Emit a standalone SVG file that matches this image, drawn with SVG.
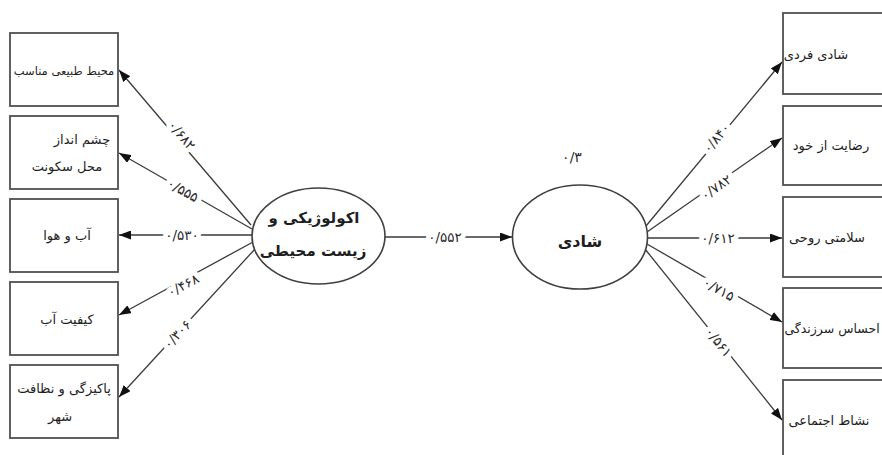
<svg xmlns="http://www.w3.org/2000/svg" width="882" height="455" viewBox="0 0 882 455">
<style>
.box{fill:#fff;stroke:#505050;stroke-width:1.8}
.ell{fill:#fff;stroke:#404040;stroke-width:1.6}
.lbl{font-family:"DejaVu Sans",sans-serif;font-size:13px;fill:#1e1e1e;text-anchor:middle}
.big{font-family:"DejaVu Sans",sans-serif;font-size:15px;font-weight:bold;fill:#1e1e1e;text-anchor:middle}
.con line{stroke:#3a3a3a;stroke-width:1.3;marker-end:url(#ah)}
.num{font-family:"DejaVu Sans",sans-serif;font-size:13.5px;fill:#2a2a2a;text-anchor:middle;stroke:#fff;stroke-width:10;stroke-linejoin:round;paint-order:stroke}
</style>
<defs>
<marker id="ah" viewBox="0 0 12 9" markerWidth="12" markerHeight="9" refX="12" refY="4.5" orient="auto" markerUnits="userSpaceOnUse">
<path d="M0,0 L12,4.5 L0,9 z" fill="#111"/>
</marker>
</defs>
<rect width="882" height="455" fill="#fff"/>

<g id="connectors" class="con">
<line x1="251" y1="225" x2="119" y2="70"/>
<line x1="252" y1="229" x2="119" y2="153"/>
<line x1="252" y1="235" x2="119" y2="235"/>
<line x1="253" y1="242" x2="119" y2="315"/>
<line x1="255" y1="249" x2="119" y2="397"/>
<line x1="385" y1="237" x2="512" y2="237"/>
<line x1="646" y1="226" x2="782" y2="62"/>
<line x1="647" y1="232" x2="782" y2="138"/>
<line x1="648" y1="238" x2="782" y2="238"/>
<line x1="647" y1="244" x2="782" y2="322"/>
<line x1="645" y1="249" x2="782" y2="420"/>
</g>

<g id="labels">
<text class="num" transform="translate(182,135) rotate(49.6)" y="5">۰/۶۸۲</text>
<text class="num" transform="translate(183,190) rotate(29.6)" y="5">۰/۵۵۵</text>
<text class="num" transform="translate(182,235)" y="5">۰/۵۳۰</text>
<text class="num" transform="translate(183,285) rotate(-28)" y="5">۰/۴۶۸</text>
<text class="num" transform="translate(177,334) rotate(-47)" y="5">۰/۳۰۶</text>
<text class="num" transform="translate(445,237)" y="5">۰/۵۵۲</text>
<text class="num" transform="translate(716,138) rotate(-50.3)" y="5">۰/۸۴۰</text>
<text class="num" transform="translate(716,187) rotate(-35)" y="5">۰/۷۸۲</text>
<text class="num" transform="translate(718,238)" y="5">۰/۶۱۲</text>
<text class="num" transform="translate(719,289) rotate(29.5)" y="5">۰/۷۱۵</text>
<text class="num" transform="translate(719,342) rotate(51)" y="5">۰/۵۶۱</text>
<text class="num" x="572" y="162" style="font-size:14px">۰/۳</text>
</g>

<g id="n-natural"><rect class="box" x="10" y="33" width="108" height="73"/><text class="lbl" x="64" y="75" style="font-size:11.5px">محیط طبیعی مناسب</text></g>
<g id="n-landscape"><rect class="box" x="10" y="116" width="108" height="73"/><text class="lbl" x="82" y="144">چشم انداز</text><text class="lbl" x="67" y="171">محل سکونت</text></g>
<g id="n-climate"><rect class="box" x="10" y="199" width="108" height="73"/><text class="lbl" x="67" y="240">آب و هوا</text></g>
<g id="n-water"><rect class="box" x="10" y="282" width="108" height="73"/><text class="lbl" x="67" y="324">کیفیت آب</text></g>
<g id="n-clean"><rect class="box" x="10" y="365" width="108" height="73"/><text class="lbl" x="64" y="393">پاکیزگی و نظافت</text><text class="lbl" x="60" y="421">شهر</text></g>

<g id="n-ecology"><ellipse class="ell" cx="318.5" cy="236" rx="66.5" ry="48"/><text class="big" x="314" y="223">اکولوژیکی و</text><text class="big" x="313" y="256">زیست محیطی</text></g>
<g id="n-happiness"><ellipse class="ell" cx="580" cy="237" rx="67.5" ry="52"/><text class="big" x="580" y="247" style="font-size:16px">شادی</text></g>

<g id="n-personal"><rect class="box" x="783" y="13" width="120" height="81"/><text class="lbl" x="816" y="59">شادی فردی</text></g>
<g id="n-self"><rect class="box" x="783" y="106" width="120" height="79"/><text class="lbl" x="831" y="150">رضایت از خود</text></g>
<g id="n-mental"><rect class="box" x="783" y="197" width="120" height="80"/><text class="lbl" x="827" y="242">سلامتی روحی</text></g>
<g id="n-vitality"><rect class="box" x="783" y="288" width="120" height="80"/><text class="lbl" x="832" y="333" style="font-size:12.5px">احساس سرزندگی</text></g>
<g id="n-social"><rect class="box" x="783" y="380" width="120" height="80"/><text class="lbl" x="829" y="425">نشاط اجتماعی</text></g>
</svg>
